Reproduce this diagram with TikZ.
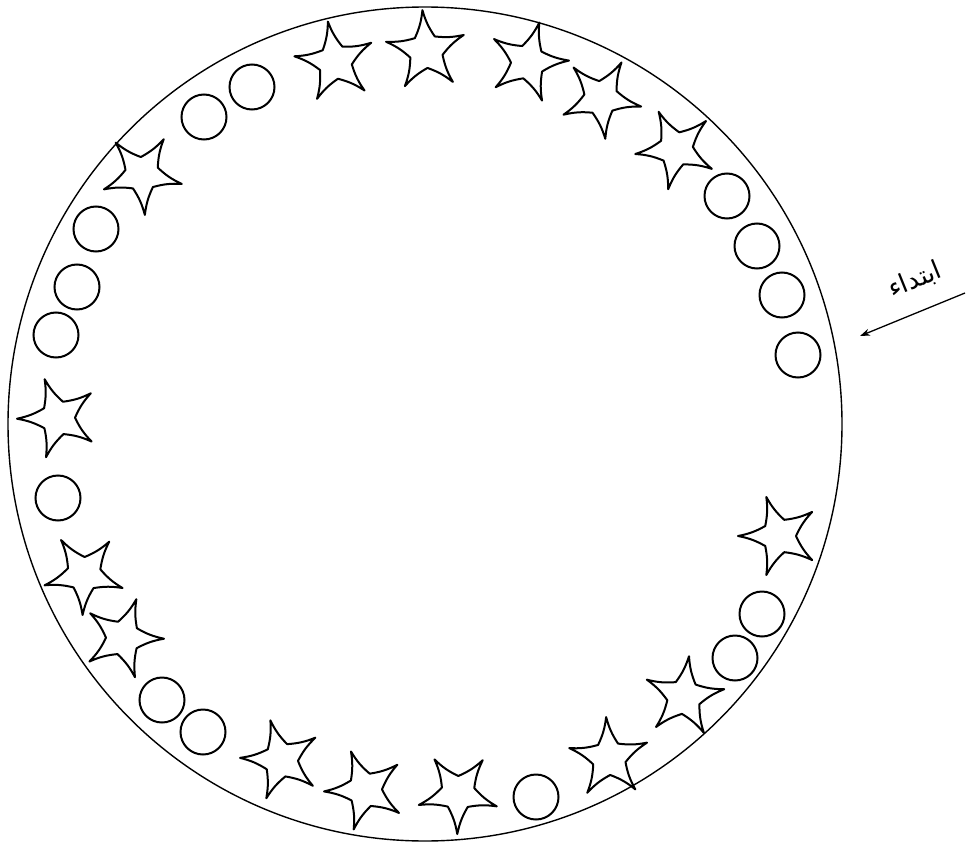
\documentclass[tikz,border=0pt]{standalone}
\usepackage{fontspec}
\newfontfamily\arabicfont[Script=Arabic]{DejaVu Sans}
\TeXXeTstate=1
\usetikzlibrary{arrows.meta}
\tikzset{
  plateline/.style={draw=black, line width=1.4pt},
  ring/.style={circle, draw=black, line width=2pt, minimum size=45pt, inner sep=0pt},
  starline/.style={draw=black, line width=2pt, line join=round},
  pointer/.style={draw=black, line width=1.3pt, -{Stealth[length=10pt,width=7pt]}},
  labeltext/.style={font=\arabicfont\fontsize{26}{30}\selectfont, inner sep=0pt}
}
\newcommand\mystar[4]{% name, x, y, rotation (visual, degrees)
  \coordinate (#1) at (#2,#3);
  \begin{scope}[shift={(#2,#3)}]
    \draw[starline] ({(#4)+90}:41pt)
      \foreach \k in {0,...,4}{
        to[bend left=9] ({(#4)+126+72*\k}:17pt)
        to[bend left=9] ({(#4)+162+72*\k}:41pt)
      } -- cycle;
  \end{scope}
}
\begin{document}
\begin{tikzpicture}[x=1pt,y=-1pt]
\useasboundingbox (0,0) rectangle (966,848);
\fill[white] (0,0) rectangle (966,848);
% plate
\node[circle, plateline, minimum size=834pt, inner sep=0pt] (plate) at (425,424) {};
% circles
\node[ring] (c1) at (252,87) {};
\node[ring] (c2) at (204,117) {};
\node[ring] (c3) at (96,229) {};
\node[ring] (c4) at (77,287) {};
\node[ring] (c5) at (56,335) {};
\node[ring] (c6) at (58,498) {};
\node[ring] (c7) at (162,700) {};
\node[ring] (c8) at (203,732) {};
\node[ring] (c9) at (536,797) {};
\node[ring] (c10) at (735,658) {};
\node[ring] (c11) at (762,614) {};
\node[ring] (c12) at (798,355) {};
\node[ring] (c13) at (782,295) {};
\node[ring] (c14) at (757,246) {};
\node[ring] (c15) at (727,196) {};
% stars
\mystar{s1}{142}{174}{-32}
\mystar{s2}{58}{418}{19}
\mystar{s3}{84}{574}{-38}
\mystar{s4}{123}{638}{-19}
\mystar{s5}{281}{760}{15}
\mystar{s6}{365}{790}{20}
\mystar{s7}{458}{793}{-37}
\mystar{s8}{609}{758}{4}
\mystar{s9}{684}{697}{-7}
\mystar{s10}{779}{536}{18}
\mystar{s11}{676}{149}{25}
\mystar{s12}{601}{98}{-30}
\mystar{s13}{528}{62}{-16}
\mystar{s14}{426}{51}{5}
\mystar{s15}{335}{62}{10}
% label and arrow
\node[labeltext, rotate=22] (lbl) at (915,280) {\beginR ابتداء\endR};
\coordinate (arrowstart) at (965,293);
\coordinate (arrowend) at (860,336);
\draw[pointer] (arrowstart) -- (arrowend);
\end{tikzpicture}
\end{document}
